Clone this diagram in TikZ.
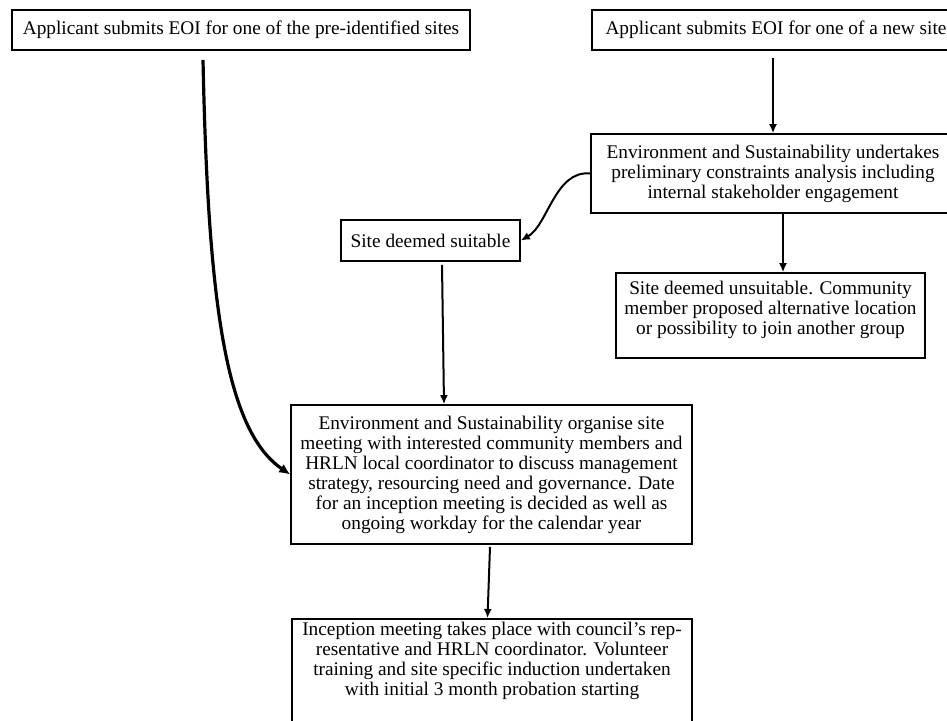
\documentclass[tikz,border=0pt]{standalone}
\usepackage{fontspec}
\setmainfont{Liberation Serif}
\usetikzlibrary{arrows.meta}
\begin{document}
\begin{tikzpicture}[x=1pt,y=-1pt,
  box/.style={draw,line width=1.6pt,inner sep=0pt,align=center,font=\fontsize{19.3}{20}\selectfont},
  arr/.style={line width=2pt,-{Latex[length=9pt,width=8pt]}},
  thickarr/.style={line width=3.2pt,-{Latex[length=11pt,width=10pt]}}]
\useasboundingbox (0,0) rectangle (947,720);
\fill[white] (0,0) rectangle (947,720);

\node[box,minimum width=458pt,minimum height=40pt] (a) at (241,30) {Applicant submits EOI for one of the pre-identified sites};
\node[box,minimum width=368pt,minimum height=40pt] (b) at (776,30) {Applicant submits EOI for one of a new site};
\node[box,minimum width=364pt,minimum height=79pt] (c) at (773,173.5) {Environment and Sustainability undertakes\\preliminary constraints analysis including\\internal stakeholder engagement};
\node[box,minimum width=179pt,minimum height=41pt] (s) at (430.5,240.5) {Site deemed suitable};
\node[box,minimum width=309pt,minimum height=85pt] (d) at (770.5,315.5) {Site deemed unsuitable. Community\\member proposed alternative location\\or possibility to join another group\\[-4pt]\mbox{}};
\node[box,minimum width=401pt,minimum height=139pt] (e) at (491.5,474.5) {Environment and Sustainability organise site\\meeting with interested community members and\\HRLN local coordinator to discuss management\\strategy, resourcing need and governance. Date\\for an inception meeting is decided as well as\\ongoing workday for the calendar year};
\node[box,minimum width=400pt,minimum height=122pt,anchor=north] (f) at (492,618) {Inception meeting takes place with council’s rep-\\resentative and HRLN coordinator. Volunteer\\training and site specific induction undertaken\\with initial 3 month probation starting\\[22pt]\mbox{}};

\draw[thickarr] ([xshift=-38pt,yshift=-9pt]a.south) .. controls (208,300) and (225,430) .. (e.west);
\draw[arr] ([yshift=-7pt]b.south -| c.north) -- (c.north);
\draw[arr] (c.west) .. controls (555,170) and (548,225) .. (s.east);
\draw[arr] ([xshift=10pt]c.south) -- ([xshift=10pt]c.south |- d.north);
\draw[arr] ([xshift=11.5pt,yshift=-3pt]s.south) -- ([xshift=-47.5pt]e.north);
\draw[arr] ([xshift=-1.5pt,yshift=-2pt]e.south) -- ([xshift=-4.5pt]f.north);
\end{tikzpicture}
\end{document}
